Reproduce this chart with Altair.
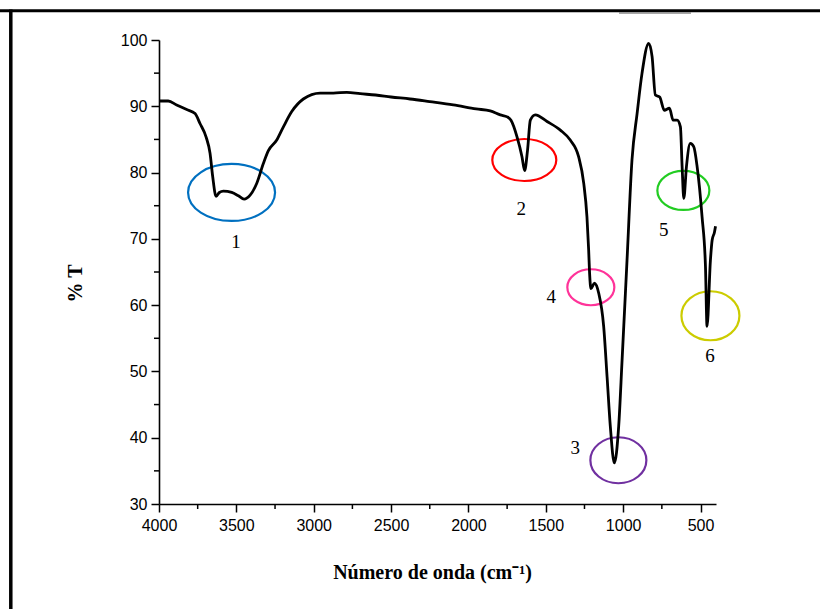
import altair as alt
import pandas as pd

# ---- spectrum ----
wavenumber = [4000, 3940, 3886, 3821, 3767, 3735, 3696, 3670, 3653, 3631, 3610, 3584, 3530, 3487,
              3450, 3411, 3368, 3325, 3293, 3239, 3196, 3142, 3067, 2959, 2873, 2786, 2700, 2600,
              2500, 2377, 2250, 2098, 1950, 1859, 1794, 1749, 1725, 1686, 1654, 1637, 1618, 1600,
              1568, 1492, 1406, 1342, 1288, 1255, 1234, 1223, 1217, 1208, 1186, 1158, 1126, 1104,
              1083, 1057, 1029, 1007, 975, 943, 910, 878, 835, 813, 792, 764, 734, 701, 677, 651,
              630, 619, 608, 591, 566, 544, 522, 490, 468, 458, 436, 425, 410, 403]
transmittance = [90.8, 90.8, 90.2, 89.5, 88.9, 87.4, 85.4, 82.9, 79.4, 76.4, 77.0, 77.2, 77.0, 76.5,
                 76.0, 76.6, 78.4, 81.4, 83.3, 84.9, 86.9, 89.2, 91.1, 92.0, 92.0, 92.1, 91.9, 91.7,
                 91.4, 91.1, 90.7, 90.2, 89.6, 89.3, 88.7, 88.4, 87.9, 85.4, 82.4, 80.3, 83.4, 87.9,
                 88.7, 87.7, 86.4, 84.9, 82.4, 78.4, 73.3, 68.3, 64.8, 62.5, 63.3, 61.8, 56.8, 49.2,
                 41.7, 36.2, 41.7, 51.7, 66.8, 81.9, 88.9, 95.0, 99.5, 97.5, 91.7, 91.4, 89.4, 89.7,
                 87.9, 87.9, 86.9, 80.9, 76.1, 80.9, 84.4, 83.9, 80.9, 73.3, 65.8, 56.8, 66.8, 69.8,
                 71.0, 71.9]

# ---- annotations ----
peak_ids = ["1", "2", "3", "4", "5", "6"]
ellipse_x = [3531, 1639, 1031, 1209, 611, 436]
ellipse_y = [77.0, 81.9, 36.6, 62.7, 77.3, 58.4]
label_x = [3502, 1659, 1309, 1465, 738, 439]
label_y = [69.6, 74.5, 38.4, 61.2, 71.3, 52.3]
ellipse_colors = ["#0070C0", "#FF0000", "#7030A0", "#FF3399", "#22CC22", "#CCCC00"]
ellipse_w = [87, 64, 56, 47, 52, 58]
ellipse_h = [57, 42, 46, 36, 39, 49]

# ---- ticks ----
x_major = [4000, 3500, 3000, 2500, 2000, 1500, 1000, 500]
x_minor = [3750, 3250, 2750, 2250, 1750, 1250, 750]
y_major = [30, 40, 50, 60, 70, 80, 90, 100]
y_minor = [35, 45, 55, 65, 75, 85, 95]

W, H = 557, 464


def ellipse_path(w, h):
    r = h / w
    k = 0.5523
    return (f"M -1 0 C -1 {-k*r:.4f} {-k} {-r:.4f} 0 {-r:.4f} "
            f"C {k} {-r:.4f} 1 {-k*r:.4f} 1 0 "
            f"C 1 {k*r:.4f} {k} {r:.4f} 0 {r:.4f} "
            f"C {-k} {r:.4f} -1 {k*r:.4f} -1 0 Z")


spec_df = pd.DataFrame({"x": wavenumber, "y": transmittance, "i": list(range(len(wavenumber)))})
ell_df = pd.DataFrame({
    "x": ellipse_x, "y": ellipse_y, "c": ellipse_colors,
    "shape": [ellipse_path(w, h) for w, h in zip(ellipse_w, ellipse_h)],
    "size": [w * w for w in ellipse_w],
})
lab_df = pd.DataFrame({"x": label_x, "y": label_y, "t": peak_ids})
xminor_df = pd.DataFrame({"x": x_minor})
yminor_df = pd.DataFrame({"y": y_minor})

xscale = alt.Scale(domain=[400, 4000], reverse=True, nice=False, zero=False)
yscale = alt.Scale(domain=[30, 100], nice=False, zero=False)

x_axis = alt.Axis(
    values=x_major, format="d", tickSize=8, tickWidth=1.5, tickColor="black",
    domainColor="black", domainWidth=1.6, labelPadding=5, labelFont="Liberation Sans",
    labelFontSize=16, labelColor="black", labelFlush=False, labelOverlap=False, grid=False,
    title="Número de onda (cm⁻¹)", titleFont="Liberation Serif", titleFontWeight="bold",
    titleFontSize=20, titleColor="black", titleX=273, titleY=74, titleAlign="center",
    titleBaseline="alphabetic",
)
y_axis = alt.Axis(
    values=y_major, format="d", tickSize=8, tickWidth=1.5, tickColor="black",
    domainColor="black", domainWidth=1.6, labelPadding=4, labelFont="Liberation Sans",
    labelFontSize=16, labelColor="black", labelFlush=False, labelOverlap=False, grid=False,
    title="% T", titleFont="Liberation Serif", titleFontWeight="bold", titleFontSize=20,
    titleColor="black", titleAngle=270, titleX=-84, titleY=243, titleAlign="center",
    titleBaseline="middle",
)

line = alt.Chart(spec_df).mark_line(color="black", strokeWidth=2.8, interpolate="monotone").encode(
    x=alt.X("x:Q", scale=xscale, axis=x_axis),
    y=alt.Y("y:Q", scale=yscale, axis=y_axis),
    order="i:Q",
)

ellipses = alt.Chart(ell_df).mark_point(filled=False, strokeWidth=2.2, opacity=1).encode(
    x=alt.X("x:Q", scale=xscale),
    y=alt.Y("y:Q", scale=yscale),
    shape=alt.Shape("shape:N", scale=None),
    size=alt.Size("size:Q", scale=None),
    color=alt.Color("c:N", scale=None),
)

labels = alt.Chart(lab_df).mark_text(font="Liberation Serif", fontSize=19, color="black",
                                      align="center", baseline="middle").encode(
    x=alt.X("x:Q", scale=xscale),
    y=alt.Y("y:Q", scale=yscale),
    text="t:N",
)

xminor = alt.Chart(xminor_df).mark_rule(color="black", strokeWidth=1.5).encode(
    x=alt.X("x:Q", scale=xscale),
    y=alt.value(H),
    y2=alt.value(H + 5),
)
yminor = alt.Chart(yminor_df).mark_rule(color="black", strokeWidth=1.5).encode(
    y=alt.Y("y:Q", scale=yscale),
    x=alt.value(-5),
    x2=alt.value(0),
)

frame_top = alt.Chart(pd.DataFrame({"a": [0]})).mark_rule(color="black", strokeWidth=3).encode(
    x=alt.value(-159), x2=alt.value(661), y=alt.value(-29.2))
frame_left = alt.Chart(pd.DataFrame({"a": [0]})).mark_rule(color="black", strokeWidth=3.5).encode(
    x=alt.value(-148.2), y=alt.value(-30.5), y2=alt.value(569))
frame_gray = alt.Chart(pd.DataFrame({"a": [0]})).mark_rule(color="#8a8a8a", strokeWidth=1.6).encode(
    x=alt.value(460), x2=alt.value(532), y=alt.value(-27))

chart = alt.layer(
    frame_top, frame_left, frame_gray, xminor, yminor, ellipses, labels, line
).properties(
    width=W, height=H,
    autosize=alt.AutoSizeParams(type="none"),
    padding={"left": 159, "top": 40, "right": 104, "bottom": 105},
    background="white",
).configure_view(stroke=None)

chart.save("out.html", embed_options={"renderer": "svg", "actions": False})
